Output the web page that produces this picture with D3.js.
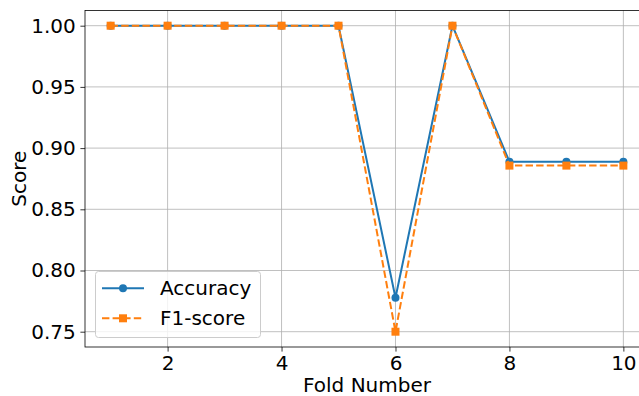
<!DOCTYPE html>
<meta charset="utf-8">
<style>
body { margin: 0; background: #fff; }
svg text { font-family: "DejaVu Sans", sans-serif; fill: #000; }
.grid line { stroke: #b0b0b0; stroke-width: 0.8px; }
.axis path, .axis line { stroke: #000; stroke-width: 0.8px; }
</style>
<body>
<script src="https://d3js.org/d3.v7.min.js"></script>
<script>
var folds = [1, 2, 3, 4, 5, 6, 7, 8, 9, 10];
var accuracy = [1, 1, 1, 1, 1, 0.7778, 1, 0.8889, 0.8889, 0.8889];
var f1score = [1, 1, 1, 1, 1, 0.7500, 1, 0.8857, 0.8857, 0.8857];
var xTicks = [2, 4, 6, 8, 10];
var yTicks = [0.75, 0.80, 0.85, 0.90, 0.95, 1.00];

var W = 639, H = 396;
var mLeft = 85, mTop = 10.4, mBottom = 347, mRight = 649;
var fs = "20px";

var svg = d3.select("body").append("svg").attr("width", W).attr("height", H);

var x = d3.scaleLinear().domain([0.55, 10.45]).range([mLeft, mRight]);
var y = d3.scaleLinear().domain([0.7375, 1.0125]).range([mBottom, mTop]);

// grid
var grid = svg.append("g").attr("class", "grid");
grid.selectAll(".gx").data(xTicks).enter().append("line")
    .attr("x1", function(d) { return x(d); }).attr("x2", function(d) { return x(d); })
    .attr("y1", mTop).attr("y2", mBottom);
grid.selectAll(".gy").data(yTicks).enter().append("line")
    .attr("x1", mLeft).attr("x2", mRight)
    .attr("y1", function(d) { return y(d); }).attr("y2", function(d) { return y(d); });

// axes
var xAxis = svg.append("g").attr("class", "axis")
    .attr("transform", "translate(0," + mBottom + ")")
    .call(d3.axisBottom(x).tickValues(xTicks).tickSizeInner(4.6).tickSizeOuter(0).tickPadding(4.6).tickFormat(d3.format("d")));
var yAxis = svg.append("g").attr("class", "axis")
    .attr("transform", "translate(" + mLeft + ",0)")
    .call(d3.axisLeft(y).tickValues(yTicks).tickSizeInner(4.6).tickSizeOuter(0).tickPadding(4.6).tickFormat(d3.format(".2f")));
svg.selectAll(".axis text").style("font-size", fs).style("font-family", "DejaVu Sans");
xAxis.select(".domain").remove();
yAxis.select(".domain").remove();

// spines
svg.append("rect").attr("x", mLeft).attr("y", mTop)
    .attr("width", mRight - mLeft).attr("height", mBottom - mTop)
    .attr("fill", "none").attr("stroke", "#000").attr("stroke-width", 0.8);

// lines
var data1 = folds.map(function(f, i) { return [f, accuracy[i]]; });
var data2 = folds.map(function(f, i) { return [f, f1score[i]]; });
var line = d3.line().x(function(d) { return x(d[0]); }).y(function(d) { return y(d[1]); });

svg.append("path").datum(data1).attr("d", line)
    .attr("fill", "none").attr("stroke", "#1f77b4").attr("stroke-width", 2);
svg.selectAll(".dot").data(data1).enter().append("circle")
    .attr("cx", function(d) { return x(d[0]); }).attr("cy", function(d) { return y(d[1]); })
    .attr("r", 4).attr("fill", "#1f77b4");

svg.append("path").datum(data2).attr("d", line)
    .attr("fill", "none").attr("stroke", "#ff7f0e").attr("stroke-width", 2)
    .attr("stroke-dasharray", "7.4,3.2");
svg.selectAll(".sq").data(data2).enter().append("rect")
    .attr("x", function(d) { return x(d[0]) - 4; }).attr("y", function(d) { return y(d[1]) - 4; })
    .attr("width", 8).attr("height", 8).attr("fill", "#ff7f0e");

// labels
svg.append("text").attr("x", 367).attr("y", 392)
    .attr("text-anchor", "middle").style("font-size", fs).text("Fold Number");
svg.append("text").attr("transform", "translate(26," + ((mTop + mBottom) / 2) + ") rotate(-90)")
    .attr("text-anchor", "middle").style("font-size", fs).text("Score");

// legend
var lg = svg.append("g");
lg.append("rect").attr("x", 95.5).attr("y", 271.5).attr("width", 165).attr("height", 66)
    .attr("rx", 3).attr("fill", "#fff").attr("fill-opacity", 0.8)
    .attr("stroke", "#cccccc").attr("stroke-width", 1);
var items = [
  { label: "Accuracy", color: "#1f77b4", dash: null, marker: "circle" },
  { label: "F1-score", color: "#ff7f0e", dash: "7.4,3.2", marker: "square" }
];
items.forEach(function(it, i) {
  var yy = 288.3 + i * 30;
  lg.append("line").attr("x1", 102).attr("x2", 144).attr("y1", yy).attr("y2", yy)
    .attr("stroke", it.color).attr("stroke-width", 2).attr("stroke-dasharray", it.dash);
  if (it.marker === "circle") {
    lg.append("circle").attr("cx", 123).attr("cy", yy).attr("r", 4).attr("fill", it.color);
  } else {
    lg.append("rect").attr("x", 119).attr("y", yy - 4).attr("width", 8).attr("height", 8).attr("fill", it.color);
  }
  lg.append("text").attr("x", 160).attr("y", yy + 7).style("font-size", fs).text(it.label);
});
</script>
</body>
